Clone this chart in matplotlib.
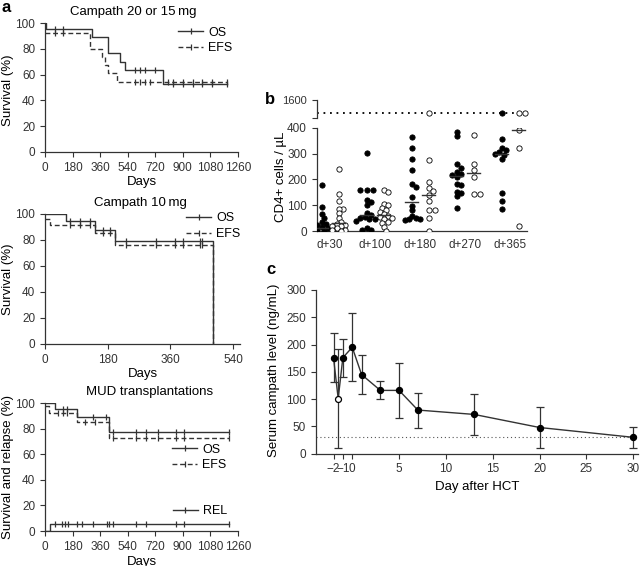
import numpy as np
import matplotlib
matplotlib.use('Agg')
import matplotlib.pyplot as plt
from matplotlib.lines import Line2D

plt.rcParams['font.family'] = ['Liberation Sans', 'DejaVu Sans']
plt.rcParams['font.size'] = 9
plt.rcParams['xtick.labelsize'] = 8.5
plt.rcParams['ytick.labelsize'] = 8.5
plt.rcParams['axes.linewidth'] = 0.9
plt.rcParams['axes.edgecolor'] = '#333333'
plt.rcParams['xtick.color'] = '#333333'
plt.rcParams['ytick.color'] = '#333333'
plt.rcParams['xtick.major.size'] = 3.5
plt.rcParams['ytick.major.size'] = 3.5

INK = '#333333'

# --- panel a: Kaplan-Meier curves (event day, level %) ---
# Campath 20 or 15 mg
a1_os_t = [0, 5, 305, 413, 490, 522, 772]
a1_os_s = [100, 95, 89, 76.5, 70, 63.5, 53]
a1_os_cens = [65, 120, 587, 620, 653, 718, 838, 903, 969, 1024, 1088, 1186]
a1_efs_t = [0, 294, 370, 392, 413, 472]
a1_efs_s = [92, 80, 74, 67.5, 61, 54.5]
a1_efs_cens = [65, 120, 587, 620, 653, 685, 805, 838, 903, 969, 1024, 1088, 1186]
a1_end = 1190

# Campath 10 mg
a2_os_t = [0, 59, 143, 201, 483]
a2_os_s = [100, 94.8, 87.9, 78.9, 0]
a2_os_cens = [72, 100, 129, 167, 186, 234, 320, 373, 397, 445, 452]
a2_efs_t = [0, 14, 143, 201, 483]
a2_efs_s = [96.5, 91.7, 85.3, 76.3, 0]
a2_efs_cens = [72, 100, 129, 167, 186, 234, 320, 373, 397, 445, 452]
a2_end = 483

# MUD transplantations
a3_os_t = [0, 65, 207, 419]
a3_os_s = [100, 95.5, 89, 77.5]
a3_os_cens = [120, 146, 316, 400, 447, 595, 659, 740, 855, 905, 1199]
a3_efs_t = [0, 28, 207, 419]
a3_efs_s = [97.5, 92.5, 85.3, 72.3]
a3_efs_cens = [87, 120, 146, 262, 327, 447, 595, 659, 740, 855, 905, 1199]
a3_rel_t = [0, 33]
a3_rel_s = [0, 5.5]
a3_rel_cens = [65, 108, 129, 150, 207, 240, 316, 406, 417, 447, 595, 659, 855, 905, 1199]
a3_end = 1199

# --- panel b: CD4+ counts (values shown on the dotted line are stored as 1000) ---
b_days = ['d+30', 'd+100', 'd+180', 'd+270', 'd+365']
b_filled = [
    [178, 92, 65, 50, 35, 28, 22, 15, 12, 10, 8, 5, 3, 2, 0, 0],
    [303, 158, 158, 158, 120, 112, 100, 70, 62, 55, 50, 48, 45, 40, 10, 5, 5],
    [365, 323, 278, 236, 182, 172, 130, 97, 80, 60, 50, 45, 45, 42],
    [385, 368, 259, 245, 227, 219, 217, 210, 182, 178, 152, 148, 135, 88],
    [1000, 355, 322, 313, 307, 300, 294, 277, 148, 117, 84],
]
b_open = [
    [240, 145, 117, 85, 85, 68, 50, 35, 28, 25, 20, 18, 10, 5, 3, 0],
    [160, 150, 105, 100, 90, 80, 75, 65, 60, 55, 50, 45, 35, 30, 15, 0],
    [1000, 274, 191, 165, 155, 140, 116, 81, 81, 49, 0],
    [372, 258, 236, 210, 142, 142],
    [1000, 1000, 390, 322, 18],
]
b_cut = 1000

# --- panel c: serum campath ---
c_day = [-2, -1.5, -1, 0, 1, 3, 5, 7, 13, 20, 30]
c_mean = [176, 101, 176, 195, 145, 116, 116, 80, 72, 48, 30]
c_low = [131, 11, 140, 133, 109, 100, 66, 48, 35, 11, 11]
c_high = [221, 191, 211, 257, 181, 133, 166, 112, 109, 85, 49]
c_open = [False, True, False, False, False, False, False, False, False, False, False]
c_limit = 30

W, H = 641, 566
fig = plt.figure(figsize=(W / 100, H / 100), dpi=100)


def rect(l, t, r, b):
    return [l / W, 1 - b / H, (r - l) / W, (b - t) / H]


def style(ax):
    for s in ('top', 'right'):
        ax.spines[s].set_visible(False)


def km(ax, times, levels, end, cens, dashed=False):
    t = list(times) + [end]
    s = list(levels) + [levels[-1]]
    ls = (0, (3.5, 2)) if dashed else '-'
    ax.step(t, s, where='post', color=INK, lw=1.0, ls=ls)
    idx = np.searchsorted(times, cens, side='right') - 1
    ax.plot(cens, np.array(levels)[idx], ls='none', marker='|', ms=5,
            mew=0.9, color=INK)


def leg_handle(dashed=False):
    ls = (0, (3.5, 2)) if dashed else '-'
    return Line2D([], [], color=INK, lw=1.0, ls=ls, marker='|', ms=5, mew=0.9)


# a1
ax1 = fig.add_axes(rect(45, 23, 238, 152))
km(ax1, a1_os_t, a1_os_s, a1_end, a1_os_cens)
km(ax1, a1_efs_t, a1_efs_s, a1_end, a1_efs_cens, dashed=True)
ax1.set_xlim(0, 1260)
ax1.set_xticks(np.arange(0, 1261, 180))
ax1.legend([leg_handle(), leg_handle(True)], ['OS', 'EFS'], loc='upper right',
           bbox_to_anchor=(1.03, 1.06), frameon=False, handlelength=2.0,
           handletextpad=0.4, labelspacing=0.3, numpoints=1)

# a2
ax2 = fig.add_axes(rect(45, 214, 240, 344))
km(ax2, a2_os_t, a2_os_s, a2_end, a2_os_cens)
km(ax2, a2_efs_t, a2_efs_s, a2_end, a2_efs_cens, dashed=True)
ax2.set_xlim(0, 560)
ax2.set_xticks([0, 180, 360, 540])
ax2.legend([leg_handle(), leg_handle(True)], ['OS', 'EFS'], loc='upper right',
           bbox_to_anchor=(1.06, 1.1), frameon=False, handlelength=2.0,
           handletextpad=0.4, labelspacing=0.3, numpoints=1)

# a3
ax3 = fig.add_axes(rect(45, 403, 238, 531))
km(ax3, a3_os_t, a3_os_s, a3_end, a3_os_cens)
km(ax3, a3_efs_t, a3_efs_s, a3_end, a3_efs_cens, dashed=True)
km(ax3, a3_rel_t, a3_rel_s, a3_end, a3_rel_cens)
ax3.set_xlim(0, 1260)
ax3.set_xticks(np.arange(0, 1261, 180))
leg_a = ax3.legend([leg_handle(), leg_handle(True)], ['OS', 'EFS'],
                   loc='upper right', bbox_to_anchor=(1.0, 0.77), frameon=False,
                   handlelength=2.0, handletextpad=0.4, labelspacing=0.3,
                   numpoints=1)
ax3.add_artist(leg_a)
ax3.legend([leg_handle()], ['REL'], loc='upper right',
           bbox_to_anchor=(1.0, 0.29), frameon=False, handlelength=2.0,
           handletextpad=0.4, numpoints=1)

for ax, title, tx, ylab, yc in [
        (ax1, 'Campath 20 or 15\u2009mg', 0.456, 'Survival (%)', 90),
        (ax2, 'Campath 10\u2009mg', 0.49, 'Survival (%)', 279),
        (ax3, 'MUD transplantations', 0.54, 'Survival and relapse (%)', 467)]:
    style(ax)
    ax.set_ylim(0, 100)
    ax.set_yticks(np.arange(0, 101, 20))
    ax.set_title(title, fontsize=9.5, pad=6)
    ax.title.set_x(tx)
    ax.set_xlabel('Days', fontsize=9.5, labelpad=2)
    ax.set_ylabel(ylab, fontsize=9.5)
    ax.yaxis.set_label_coords(2 / W, 1 - yc / H, transform=fig.transFigure)
    ax.yaxis.label.set_va('top')

# --- panel b ---
bl, br = 316.7, 526.7
axb = fig.add_axes(rect(bl, 127.7, br, 231))
axt = fig.add_axes(rect(bl, 100, br, 117.7))
px_x = (br - bl) / 4.67
px_y = 103.3 / 400
dx = 4.2 / px_x
dy = 4.2 / px_y


def swarm(vals, center):
    placed = []
    order = np.argsort(vals)[::-1]
    out = np.zeros(len(vals))
    for i in order:
        v = vals[i]
        for k in [0, 1, -1, 2, -2, 3, -3, 4, -4, 5, -5, 6, -6]:
            x = center + k * dx * 0.5
            if all(((x - p) / dx) ** 2 + ((v - q) / dy) ** 2 >= 1 for p, q in placed):
                break
        placed.append((x, v))
        out[i] = x
    return out


for i, day in enumerate(b_days):
    for vals, off, fc in [(b_filled[i], -0.19, 'black'), (b_open[i], 0.19, 'white')]:
        vals = np.array(vals, dtype=float)
        xs = swarm(vals, i + off)
        lo = vals <= 400
        axb.plot(xs[lo], vals[lo], ls='none', marker='o', ms=3.8, mfc=fc,
                 mec='black', mew=0.6, zorder=3)
        axt.plot(xs[~lo], vals[~lo], ls='none', marker='o', ms=3.8, mfc=fc,
                 mec='black', mew=0.6, zorder=3, clip_on=False)
        med = np.median(vals)
        if med <= 400:
            axb.plot([i + off - 0.14, i + off + 0.14], [med, med], color=INK,
                     lw=1.0, zorder=4)

axb.set_xlim(-0.3, 4.37)
axb.set_ylim(0, 400)
axb.set_yticks([0, 100, 200, 300, 400])
axb.set_xticks(range(len(b_days)))
axb.set_xticklabels(b_days)
axb.tick_params(axis='x', length=0, pad=6)
style(axb)
axb.set_ylabel('CD4+ cells / \u00b5L', fontsize=9.5)
axb.yaxis.set_label_coords(275 / W, 1 - 177 / H, transform=fig.transFigure)
axb.yaxis.label.set_va('top')

axt.set_xlim(-0.3, 4.37)
axt.set_ylim(780, 1600)
axt.set_yticks([780, 1600])
axt.set_yticklabels(['', '1600'], fontsize=8)
axt.axhline(b_cut, color='black', lw=1.3, ls=(0, (1, 2.6)), zorder=1)
axt.set_xticks([])
for s in ('top', 'right', 'bottom'):
    axt.spines[s].set_visible(False)
axt.patch.set_visible(False)

# --- panel c ---
axc = fig.add_axes(rect(315.7, 290, 638, 453.7))
c_day_a = np.array(c_day)
c_mean_a = np.array(c_mean)
c_open_a = np.array(c_open)
yerr = [c_mean_a - np.array(c_low), np.array(c_high) - c_mean_a]
axc.axhline(c_limit, color='#555555', lw=0.8, ls=(0, (1, 2.5)), zorder=1)
axc.errorbar(c_day_a, c_mean_a, yerr=yerr, fmt='none', ecolor=INK,
             elinewidth=0.9, capsize=3, capthick=0.9, zorder=2)
axc.plot(c_day_a, c_mean_a, color=INK, lw=1.0, zorder=3)
axc.plot(c_day_a[~c_open_a], c_mean_a[~c_open_a], ls='none', marker='o', ms=4.3,
         mfc='black', mec='black', zorder=4)
axc.plot(c_day_a[c_open_a], c_mean_a[c_open_a], ls='none', marker='o', ms=4.3,
         mfc='white', mec='black', mew=0.9, zorder=4)
axc.set_xlim(-3.9, 30.5)
axc.set_ylim(0, 300)
axc.set_xticks([-2, -1, 0, 5, 10, 15, 20, 25, 30])
axc.set_xticklabels(['\u22122', '\u22121', '0', '5', '10', '15', '20', '25', '30'])
axc.set_yticks(np.arange(0, 301, 50))
style(axc)
axc.set_xlabel('Day after HCT', fontsize=9.5, labelpad=4)
axc.set_ylabel('Serum campath level (ng/mL)', fontsize=9.5)
axc.yaxis.set_label_coords(268 / W, 1 - 370 / H, transform=fig.transFigure)
axc.yaxis.label.set_va('top')

# panel letters
fig.text(6 / W, 1 - 7 / H, 'a', fontsize=12, fontweight='bold', va='center', ha='center')
fig.text(270 / W, 1 - 99 / H, 'b', fontsize=12, fontweight='bold', va='center', ha='center')
fig.text(271 / W, 1 - 269 / H, 'c', fontsize=12, fontweight='bold', va='center', ha='center')

fig.savefig('out.png', dpi=100)
